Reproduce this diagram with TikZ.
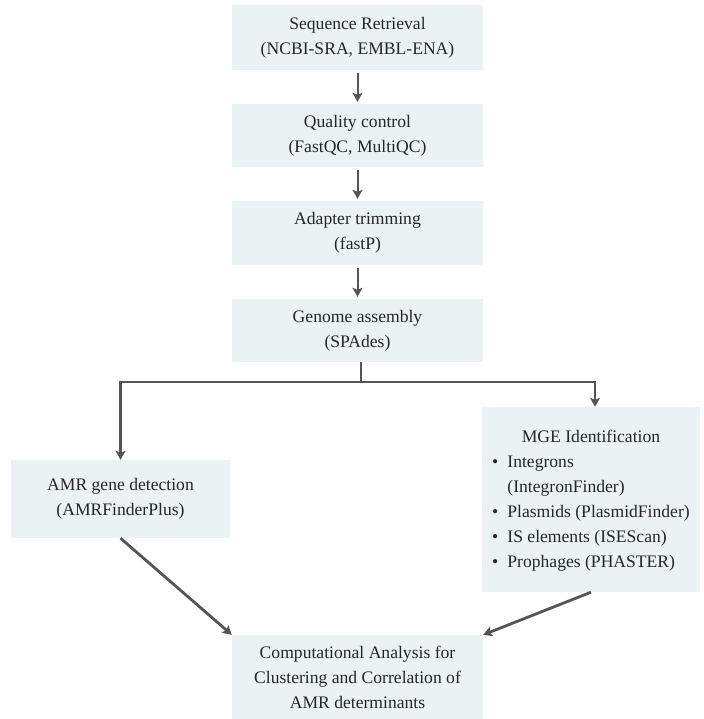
\documentclass[tikz,border=0pt]{standalone}
\usepackage{fontspec}
\setmainfont{Liberation Serif}
\usetikzlibrary{arrows.meta}

\definecolor{boxfill}{RGB}{234,242,244}
\definecolor{linegray}{RGB}{85,85,85}

\begin{document}
\begin{tikzpicture}[x=1pt,y=-1pt,
                    stepbox/.style={fill=boxfill,draw=none,align=center,inner sep=0pt,
                      font=\fontsize{17.6}{25}\selectfont,text=black!85},
                    flow/.style={draw=linegray,line width=2.8pt},
                    tip/.style={-{Stealth[length=9pt,width=10pt,inset=2pt]}}]
  \useasboundingbox (0,0) rectangle (703,719);

  \node[stepbox,minimum width=251pt,minimum height=65pt] (seq) at (357.5,37.5)
    {Sequence Retrieval\\(NCBI-SRA, EMBL-ENA)};
  \node[stepbox,minimum width=251pt,minimum height=63pt] (qc) at (357.5,135.5)
    {Quality control\\(FastQC, MultiQC)};
  \node[stepbox,minimum width=251pt,minimum height=64pt] (trim) at (357.5,233)
    {Adapter trimming\\(fastP)};
  \node[stepbox,minimum width=251pt,minimum height=63pt] (asm) at (357.5,330.5)
    {Genome assembly\\(SPAdes)};

  \node[stepbox,minimum width=219pt,minimum height=78pt] (amr) at (120.5,499)
    {AMR gene detection\\(AMRFinderPlus)};
  \node[stepbox,minimum width=218pt,minimum height=185pt] (mge) at (591,499.5)
    {\begin{tabular}{@{}c@{\hspace{9pt}}l@{}}
       \multicolumn{2}{c}{MGE Identification}\\
       \textbullet & Integrons\\
                   & (IntegronFinder)\\
       \textbullet & Plasmids (PlasmidFinder)\\
       \textbullet & IS elements (ISEScan)\\
       \textbullet & Prophages (PHASTER)
     \end{tabular}};

  \node[stepbox,minimum width=251pt,minimum height=84pt] (comp) at (357.5,677)
    {Computational Analysis for\\Clustering and Correlation of\\AMR determinants};

  % straight chain
  \draw[flow,tip,line width=2pt,shorten <=3pt,shorten >=2pt] (seq) -- (qc);
  \draw[flow,tip,line width=2pt,shorten <=3pt,shorten >=2pt] (qc) -- (trim);
  \draw[flow,tip,line width=2pt,shorten <=3pt,shorten >=2pt] (trim) -- (asm);

  % split after assembly
  \coordinate (split) at (361,382);
  \draw[flow] (asm.south -| split) -- (split);
  \draw[flow,tip] (split) -| (amr.north);
  \draw[flow,tip] (split) -| ([xshift=4pt]mge.north);

  % merge into analysis
  \draw[flow,tip] (amr.south) -- (comp.north west);
  \draw[flow,tip] (mge.south) -- (comp.north east);
\end{tikzpicture}
\end{document}
